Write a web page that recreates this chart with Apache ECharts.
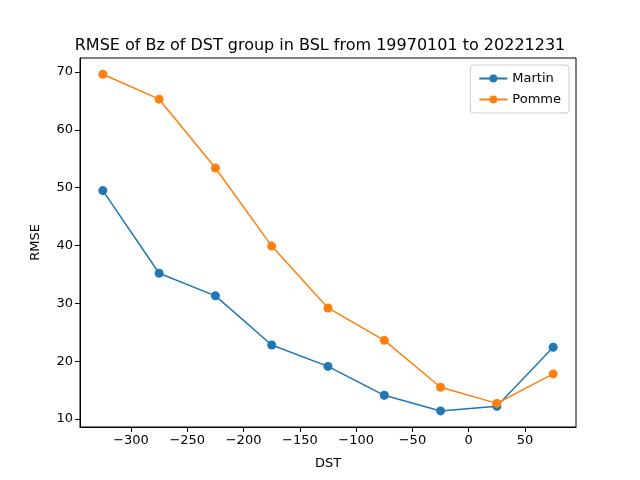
<!DOCTYPE html>
<html><head><meta charset="utf-8">
<script src="https://cdn.jsdelivr.net/npm/echarts@6/dist/echarts.min.js"></script>
<style>html,body{margin:0;padding:0;background:#fff}#c{width:640px;height:480px}</style>
</head><body><div id="c"></div>
<script>
const dst = [-325, -275, -225, -175, -125, -75, -25, 25, 75];
const martin = [49.5, 35.2, 31.3, 22.8, 19.1, 14.1, 11.4, 12.2, 22.4];
const pomme = [69.6, 65.3, 53.4, 39.9, 29.2, 23.6, 15.5, 12.7, 17.8];
const xTicks = [-300, -250, -200, -150, -100, -50, 0, 50];
const yTicks = [10, 20, 30, 40, 50, 60, 70];

function pairs(ys) {
  return dst.map(function (x, i) { return [x, ys[i]]; });
}
const font = 'DejaVu Sans';
let chart = echarts.init(document.getElementById('c'));
chart.setOption({
  animation: false,
  title: {
    text: 'RMSE of Bz of DST group in BSL from 19970101 to 20221231',
    left: 'center', top: 33,
    textStyle: { fontFamily: font, fontSize: 16, fontWeight: 'normal', color: '#000' }
  },
  legend: {
    orient: 'vertical', right: 71, top: 65,
    itemGap: 8, padding: [7, 8],
    borderColor: '#ccc', borderWidth: 1, borderRadius: 3,
    itemWidth: 28, itemHeight: 10,
    textStyle: { fontFamily: font, fontSize: 13, color: '#000' },
    data: ['Martin', 'Pomme']
  },
  grid: { left: 80, right: 64, top: 58, bottom: 53, show: true, borderColor: '#000', borderWidth: 1 },
  xAxis: {
    type: 'value', min: -345.3, max: 95.3,
    name: 'DST', nameLocation: 'middle', nameGap: 30,
    nameTextStyle: { fontFamily: font, fontSize: 13, color: '#000' },
    axisLine: { show: true, onZero: false, lineStyle: { color: '#000' } },
    axisTick: { show: true, length: 5, customValues: xTicks, lineStyle: { color: '#000' } },
    axisLabel: { customValues: xTicks, fontFamily: font, fontSize: 13, color: '#000', margin: 7,
      formatter: function (v) { return String(v).replace('-', '\u2212'); } },
    splitLine: { show: false }
  },
  yAxis: {
    type: 'value', min: 8.62, max: 72.42,
    name: 'RMSE', nameLocation: 'middle', nameGap: 38,
    nameTextStyle: { fontFamily: font, fontSize: 13, color: '#000' },
    axisLine: { show: true, onZero: false, lineStyle: { color: '#000' } },
    axisTick: { show: true, length: 5, customValues: yTicks, lineStyle: { color: '#000' } },
    axisLabel: { customValues: yTicks, fontFamily: font, fontSize: 13, color: '#000', margin: 7 },
    splitLine: { show: false }
  },
  series: [
    { name: 'Martin', type: 'line', data: pairs(martin), color: '#1f77b4',
      symbol: 'circle', symbolSize: 9, lineStyle: { width: 1.5 } },
    { name: 'Pomme', type: 'line', data: pairs(pomme), color: '#ff7f0e',
      symbol: 'circle', symbolSize: 9, lineStyle: { width: 1.5 } }
  ]
});
</script></body></html>
